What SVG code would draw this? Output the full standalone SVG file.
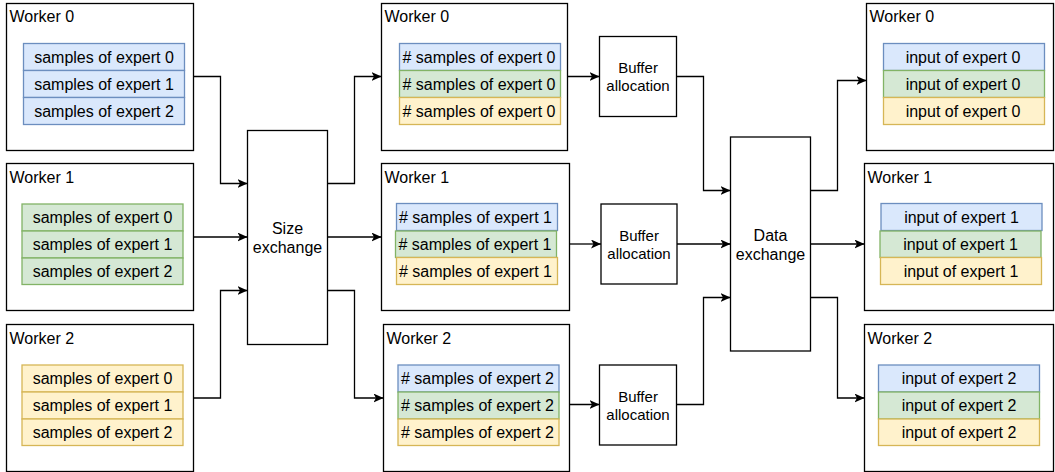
<svg xmlns="http://www.w3.org/2000/svg" width="1055" height="472" viewBox="0 0 1055 472">
<defs>
<marker id="arr" markerUnits="userSpaceOnUse" markerWidth="11" markerHeight="10" refX="10" refY="4.5" orient="auto">
<path d="M0,0 L10,4.5 L0,9 L2.5,4.5 Z" fill="#000"/>
</marker>
</defs>
<style>
text{font-family:"Liberation Sans",Arial,sans-serif;font-size:16px;fill:#000}
.box{fill:#fff;stroke:#000;stroke-width:1.3}
.blue{fill:#dae8fc;stroke:#6c8ebf;stroke-width:1.3}
.green{fill:#d5e8d4;stroke:#82b366;stroke-width:1.3}
.yellow{fill:#fff2cc;stroke:#d6b656;stroke-width:1.3}
.c{text-anchor:middle}
.small{font-size:15px}
.conn path{fill:none;stroke:#000;stroke-width:1.3;marker-end:url(#arr)}
</style>
<rect width="1055" height="472" fill="#fff"/>

<g id="connectors" class="conn">
<path d="M193.5,76.5 H220.5 V183.5 H247.5"/>
<path d="M193.5,237 H247.5"/>
<path d="M193.5,398 H220.5 V290.5 H247.5"/>
<path d="M327.5,183.5 H354.5 V76.5 H381.5"/>
<path d="M327.5,237 H381.5"/>
<path d="M327.5,290.5 H354.5 V398 H383.5"/>
<path d="M567.5,76.5 H599.5"/>
<path d="M569.5,244 H601"/>
<path d="M567.5,404.5 H599.5"/>
<path d="M676.5,76.5 H703.5 V190.5 H730.5"/>
<path d="M677,244 H730.5"/>
<path d="M677,404.5 H703.5 V297.5 H730.5"/>
<path d="M810.5,190.5 H837.5 V80.5 H866.5"/>
<path d="M810.5,244 H864.5"/>
<path d="M810.5,297.5 H837.5 V398 H864.5"/>
</g>

<g id="src-worker0">
<rect class="box" x="6.5" y="3.5" width="187" height="147"/>
<text x="9.5" y="22">Worker 0</text>
<rect class="blue" x="23.5" y="43.5" width="161" height="27"/>
<text class="c" x="104" y="62.5">samples of expert 0</text>
<rect class="blue" x="23.5" y="70.5" width="161" height="27"/>
<text class="c" x="104" y="89.5">samples of expert 1</text>
<rect class="blue" x="23.5" y="97.5" width="161" height="27"/>
<text class="c" x="104" y="116.5">samples of expert 2</text>
</g>

<g id="src-worker1">
<rect class="box" x="6.5" y="163.5" width="187" height="147"/>
<text x="9.5" y="183">Worker 1</text>
<rect class="green" x="22" y="204" width="161" height="27"/>
<text class="c" x="102.5" y="223">samples of expert 0</text>
<rect class="green" x="22" y="231" width="161" height="27"/>
<text class="c" x="102.5" y="250">samples of expert 1</text>
<rect class="green" x="22" y="258" width="161" height="26.5"/>
<text class="c" x="102.5" y="277">samples of expert 2</text>
</g>

<g id="src-worker2">
<rect class="box" x="6.5" y="324.5" width="187" height="147"/>
<text x="9.5" y="344">Worker 2</text>
<rect class="yellow" x="22" y="365" width="161" height="27"/>
<text class="c" x="102.5" y="384">samples of expert 0</text>
<rect class="yellow" x="22" y="392" width="161" height="27"/>
<text class="c" x="102.5" y="411">samples of expert 1</text>
<rect class="yellow" x="22" y="419" width="161" height="26.5"/>
<text class="c" x="102.5" y="438">samples of expert 2</text>
</g>

<g id="size-exchange">
<rect class="box" x="247.5" y="130.5" width="80" height="214"/>
<text class="c" x="287.5" y="234">Size</text>
<text class="c" x="287.5" y="253">exchange</text>
</g>

<g id="mid-worker0">
<rect class="box" x="381.5" y="3.5" width="186" height="147"/>
<text x="384.5" y="22">Worker 0</text>
<rect class="blue" x="399.5" y="43.5" width="161" height="27"/>
<text class="c" x="479" y="62.5"># samples of expert 0</text>
<rect class="green" x="399.5" y="70.5" width="161" height="27"/>
<text class="c" x="479" y="89.5"># samples of expert 0</text>
<rect class="yellow" x="399.5" y="97.5" width="161" height="27"/>
<text class="c" x="479" y="116.5"># samples of expert 0</text>
</g>

<g id="mid-worker1">
<rect class="box" x="381.5" y="163.5" width="188" height="147"/>
<text x="384.5" y="183">Worker 1</text>
<rect class="blue" x="396.5" y="203.5" width="161" height="27"/>
<text class="c" x="475.5" y="222.5"># samples of expert 1</text>
<rect class="green" x="395.5" y="231" width="161" height="26.5"/>
<text class="c" x="475" y="250"># samples of expert 1</text>
<rect class="yellow" x="396.5" y="257.5" width="161" height="27"/>
<text class="c" x="475.5" y="276.5"># samples of expert 1</text>
</g>

<g id="mid-worker2">
<rect class="box" x="383.5" y="324.5" width="186" height="147"/>
<text x="386.5" y="344">Worker 2</text>
<rect class="blue" x="398" y="365" width="161" height="27"/>
<text class="c" x="477.5" y="384"># samples of expert 2</text>
<rect class="green" x="398" y="392" width="161" height="27"/>
<text class="c" x="477.5" y="411"># samples of expert 2</text>
<rect class="yellow" x="398" y="419" width="161" height="26.5"/>
<text class="c" x="477.5" y="438"># samples of expert 2</text>
</g>

<g id="buffer0">
<rect class="box" x="599.5" y="36.5" width="77" height="80"/>
<text class="c small" x="638" y="73">Buffer</text>
<text class="c small" x="638" y="91">allocation</text>
</g>

<g id="buffer1">
<rect class="box" x="601" y="204" width="76" height="80"/>
<text class="c small" x="639" y="240.5">Buffer</text>
<text class="c small" x="639" y="258.5">allocation</text>
</g>

<g id="buffer2">
<rect class="box" x="599.5" y="365" width="77" height="80"/>
<text class="c small" x="638" y="401.5">Buffer</text>
<text class="c small" x="638" y="419.5">allocation</text>
</g>

<g id="data-exchange">
<rect class="box" x="730.5" y="137" width="80" height="214"/>
<text class="c" x="770.5" y="241">Data</text>
<text class="c" x="770.5" y="260">exchange</text>
</g>

<g id="dst-worker0">
<rect class="box" x="866.5" y="3.5" width="187" height="147"/>
<text x="869.5" y="22">Worker 0</text>
<rect class="blue" x="883.5" y="43.5" width="161" height="27"/>
<text class="c" x="963" y="62.5">input of expert 0</text>
<rect class="green" x="883.5" y="70.5" width="161" height="27"/>
<text class="c" x="963" y="89.5">input of expert 0</text>
<rect class="yellow" x="883.5" y="97.5" width="161" height="27"/>
<text class="c" x="963" y="116.5">input of expert 0</text>
</g>

<g id="dst-worker1">
<rect class="box" x="864.5" y="163.5" width="189" height="147"/>
<text x="867.5" y="183">Worker 1</text>
<rect class="blue" x="881" y="203.5" width="161" height="27"/>
<text class="c" x="961.5" y="222.5">input of expert 1</text>
<rect class="green" x="880" y="231" width="161" height="26.5"/>
<text class="c" x="960.5" y="250">input of expert 1</text>
<rect class="yellow" x="880.5" y="257.5" width="161" height="27"/>
<text class="c" x="961" y="276.5">input of expert 1</text>
</g>

<g id="dst-worker2">
<rect class="box" x="864.5" y="324.5" width="189" height="147"/>
<text x="867.5" y="344">Worker 2</text>
<rect class="blue" x="878.5" y="365" width="161" height="27"/>
<text class="c" x="959" y="384">input of expert 2</text>
<rect class="green" x="878.5" y="392" width="161" height="27"/>
<text class="c" x="959" y="411">input of expert 2</text>
<rect class="yellow" x="878.5" y="419" width="161" height="26.5"/>
<text class="c" x="959" y="438">input of expert 2</text>
</g>
</svg>
